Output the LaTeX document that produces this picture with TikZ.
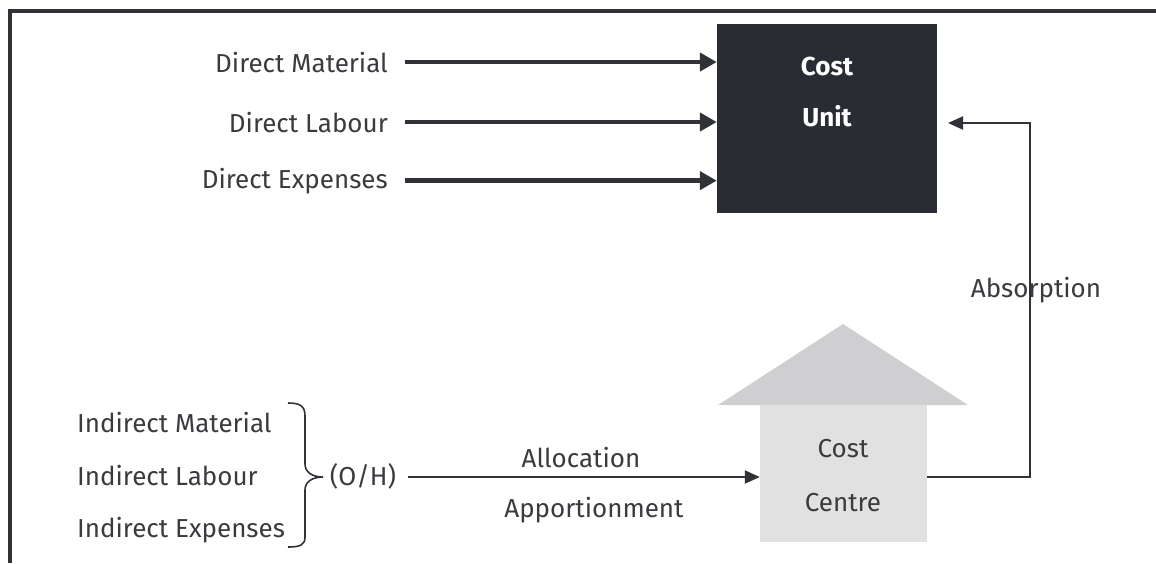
\documentclass[tikz,border=0pt]{standalone}
\usepackage{fontspec}
\setmainfont{Fira Sans}
\usetikzlibrary{arrows.meta}
\definecolor{boxc}{HTML}{2A2C33}
\definecolor{linec}{HTML}{303238}
\definecolor{txtc}{HTML}{3A3B3F}
\definecolor{roofc}{HTML}{CFCFD1}
\definecolor{bodyc}{HTML}{E1E1E2}
\begin{document}
\begin{tikzpicture}[x=1pt,y=-1pt,
  lbl/.style={inner sep=0pt, text=txtc, font=\fontsize{26}{30}\selectfont},
  wlbl/.style={inner sep=0pt, text=white, font=\fontsize{26}{30}\selectfont\bfseries},
  bigarrow/.style={line width=4.5pt, draw=linec, -{Triangle[length=17pt,width=18pt]}},
  smallarrow/.style={line width=2pt, draw=linec, -{Triangle[length=15pt,width=13pt]}},
  plainline/.style={line width=2pt, draw=linec}
]
\useasboundingbox (0,0) rectangle (1156,563);
% frame
\draw[line width=4pt, draw=linec, line join=miter] (10,563) -- (10,11) -- (1156,11);

% cost unit
\node[fill=boxc, minimum width=220pt, minimum height=189pt, inner sep=0pt] (cu) at (827,118.5) {};
\node[wlbl, anchor=base] (cucost) at (827,75) {Cost};
\node[wlbl, anchor=base] (cuunit) at (827,126) {Unit};

% direct items
\node[lbl, anchor=base east] (dm) at (388,72) {Direct Material};
\node[lbl, anchor=base east] (dl) at (388,132) {Direct Labour};
\node[lbl, anchor=base east] (de) at (388,188) {Direct Expenses};
\draw[bigarrow] ([xshift=17pt]dm.east) -- (cu.west |- dm.east);
\draw[bigarrow] ([xshift=17pt]dl.east) -- (cu.west |- dl.east);
\draw[bigarrow] ([xshift=17pt]de.east) -- (cu.west |- de.east);

% cost centre
\fill[roofc] (718,405) -- (843,324) -- (968,405) -- cycle;
\node[fill=bodyc, minimum width=167pt, minimum height=137pt, inner sep=0pt] (cc) at (843.5,473.5) {};
\node[lbl, anchor=base] (cccost) at (843,457) {Cost};
\node[lbl, anchor=base] (cccentre) at (843,511) {Centre};

% indirect items
\node[lbl, anchor=base west] (im) at (77,432) {Indirect Material};
\node[lbl, anchor=base west] (il) at (77,485) {Indirect Labour};
\node[lbl, anchor=base west] (ie) at (77,537) {Indirect Expenses};
\draw[line width=1.6pt, draw=linec] (288,403) .. controls (300,403) and (305,406) .. (305,416) -- (305,464) .. controls (305,472) and (312,477) .. (323,477) .. controls (312,477) and (305,482) .. (305,490) -- (305,537) .. controls (305,545) and (300,547) .. (288,547);
\node[lbl, anchor=base] (oh) at (363,485) {(O/H)};
\coordinate (ohout) at (408,477);
\draw[smallarrow] (ohout) -- (cc.west |- ohout);
\node[lbl, anchor=base] (alloc) at (581,467) {Allocation};
\node[lbl, anchor=base] (appor) at (594,517) {Apportionment};

% absorption
\coordinate (ccout) at (cc.east |- ohout);
\coordinate (abscorner) at (1030,123);
\coordinate (absend) at (948,123);
\draw[smallarrow] (ccout) -| (abscorner) -- (absend);
\node[lbl, anchor=base] (absorb) at (1036,297) {Absorption};
\end{tikzpicture}
\end{document}
